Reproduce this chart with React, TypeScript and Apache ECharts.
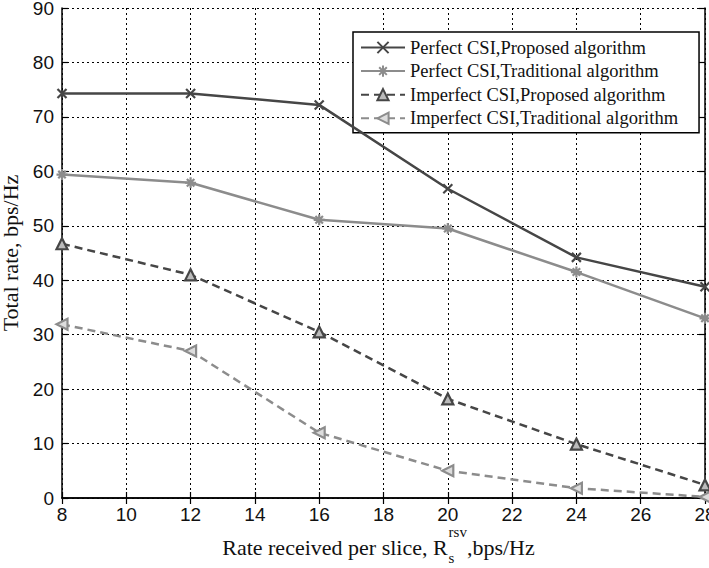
import React, { useEffect, useRef } from "react";
import * as echarts from "echarts";

// Rate received per slice (bps/Hz)
const sliceRates = [8, 12, 16, 20, 24, 28];
// Total rate (bps/Hz) for each scheme
const perfectProposed = [74.3, 74.3, 72.2, 56.8, 44.2, 38.8];
const perfectTraditional = [59.4, 57.9, 51.1, 49.5, 41.5, 33.0];
const imperfectProposed = [46.7, 41.0, 30.5, 18.2, 9.9, 2.4];
const imperfectTraditional = [31.9, 27.0, 12.0, 5.0, 1.8, 0.2];

const seriesNames = [
  "Perfect CSI,Proposed algorithm",
  "Perfect CSI,Traditional algorithm",
  "Imperfect CSI,Proposed algorithm",
  "Imperfect CSI,Traditional algorithm",
];

const yTicks = { min: 0, max: 90, interval: 10 };
const xTicks = { min: 8, max: 28, interval: 2 };

const DARK = "#464646";
const LIGHT = "#8c8c8c";
const SERIF = "'Liberation Serif', 'Times New Roman', serif";
const SANS = "'Liberation Sans', Arial, sans-serif";

const crossSymbol = "path://M0,0L10,10M10,0L0,10";
const starSymbol = "path://M5,0L5,10M0,5L10,5M1.6,1.6L8.4,8.4M8.4,1.6L1.6,8.4";
const leftTriangle = "path://M0,5L10,0L10,10Z";

const W = 709;
const H = 568;
const GRID = { left: 62, top: 8, right: 4, bottom: 70 };

function measure(text: string, font: string): number {
  const ctx = document.createElement("canvas").getContext("2d");
  if (!ctx) return text.length * 9;
  ctx.font = font;
  return ctx.measureText(text).width;
}

export default function App() {
  const ref = useRef<HTMLDivElement>(null);

  useEffect(() => {
    if (!ref.current) return;
    const chart = echarts.init(ref.current, undefined, { renderer: "svg" });

    const pts = (ys: number[]) => sliceRates.map((x, i) => [x, ys[i]]);

    // x-axis title "Rate received per slice, R_s^rsv,bps/Hz", centred under the plot
    const mainFont = `22px ${SERIF}`;
    const smallFont = `15px ${SERIF}`;
    const part1 = "Rate received per slice, R";
    const part2 = ",bps/Hz";
    const w1 = measure(part1, mainFont);
    const wSup = measure("rsv", smallFont);
    const w2 = measure(part2, mainFont);
    const total = w1 + 1 + wSup + w2;
    const plotCenter = GRID.left + (W - GRID.left - GRID.right) / 2;
    const x0 = plotCenter - total / 2 - 5;
    const titleY = 547;

    const axisCommon = {
      axisLine: { show: true, lineStyle: { color: "#000", width: 1.5 } },
      axisTick: { show: true, inside: true, length: 6, lineStyle: { color: "#000", width: 1.2 } },
    };

    chart.setOption({
      animation: false,
      backgroundColor: "#fff",
      grid: { ...GRID, containLabel: false, outerBoundsMode: "none" },
      legend: {
        orient: "vertical",
        left: 353,
        top: 32,
        padding: [6, 21, 5, 7],
        itemWidth: 44,
        itemHeight: 14,
        itemGap: 4.6,
        backgroundColor: "#fff",
        borderColor: "#000",
        borderWidth: 1.5,
        borderRadius: 0,
        data: seriesNames,
        textStyle: { fontFamily: SERIF, fontSize: 18.5, lineHeight: 18, color: "#111" },
      },
      xAxis: [
        {
          type: "value",
          position: "bottom",
          ...xTicks,
          ...axisCommon,
          axisLabel: { fontFamily: SANS, fontSize: 19, color: "#111", margin: 7 },
          splitLine: { show: true, lineStyle: { color: "#000", width: 1, type: [2, 3] } },
        },
        {
          type: "value",
          position: "top",
          ...xTicks,
          ...axisCommon,
          axisLabel: { show: false },
          splitLine: { show: false },
        },
      ],
      yAxis: [
        {
          type: "value",
          position: "left",
          ...yTicks,
          ...axisCommon,
          name: "Total rate, bps/Hz",
          nameLocation: "middle",
          nameGap: 34,
          nameTextStyle: { fontFamily: SERIF, fontSize: 22, lineHeight: 22, color: "#111" },
          axisLabel: { fontFamily: SANS, fontSize: 19, lineHeight: 15, color: "#111", margin: 8 },
          splitLine: { show: true, lineStyle: { color: "#000", width: 1, type: [2, 3] } },
        },
        {
          type: "value",
          position: "right",
          ...yTicks,
          ...axisCommon,
          axisLabel: { show: false },
          splitLine: { show: false },
        },
      ],
      series: [
        {
          name: seriesNames[0],
          type: "line",
          data: pts(perfectProposed),
          symbol: crossSymbol,
          symbolSize: 9,
          lineStyle: { color: DARK, width: 2.5, type: "solid" },
          itemStyle: { color: "none", borderColor: DARK, borderWidth: 2.2 },
          z: 5,
        },
        {
          name: seriesNames[1],
          type: "line",
          data: pts(perfectTraditional),
          symbol: starSymbol,
          symbolSize: 11,
          lineStyle: { color: LIGHT, width: 2.5, type: "solid" },
          itemStyle: { color: "none", borderColor: LIGHT, borderWidth: 2.2 },
          z: 4,
        },
        {
          name: seriesNames[2],
          type: "line",
          data: pts(imperfectProposed),
          symbol: "triangle",
          symbolSize: 11,
          lineStyle: { color: DARK, width: 2.5, type: [8, 5] },
          itemStyle: { color: "#bbb", borderColor: DARK, borderWidth: 2.2 },
          z: 5,
        },
        {
          name: seriesNames[3],
          type: "line",
          data: pts(imperfectTraditional),
          symbol: leftTriangle,
          symbolSize: 11,
          lineStyle: { color: LIGHT, width: 2.5, type: [8, 5] },
          itemStyle: { color: "#ddd", borderColor: LIGHT, borderWidth: 2.2 },
          z: 4,
        },
      ],
      graphic: [
        {
          type: "group",
          silent: true,
          children: [
            {
              type: "text",
              x: x0,
              y: titleY,
              style: { text: part1, font: mainFont, fill: "#111", align: "left", verticalAlign: "middle" },
            },
            {
              type: "text",
              x: x0 + w1 + 1,
              y: titleY - 15,
              style: { text: "rsv", font: smallFont, fill: "#111", align: "left", verticalAlign: "middle" },
            },
            {
              type: "text",
              x: x0 + w1 + 1,
              y: titleY + 11,
              style: { text: "s", font: smallFont, fill: "#111", align: "left", verticalAlign: "middle" },
            },
            {
              type: "text",
              x: x0 + w1 + 1 + wSup,
              y: titleY,
              style: { text: part2, font: mainFont, fill: "#111", align: "left", verticalAlign: "middle" },
            },
          ],
        },
      ],
    });

    return () => chart.dispose();
  }, []);

  return (
    <div
      ref={ref}
      style={{ position: "absolute", left: 0, top: 0, width: W, height: H }}
    />
  );
}
